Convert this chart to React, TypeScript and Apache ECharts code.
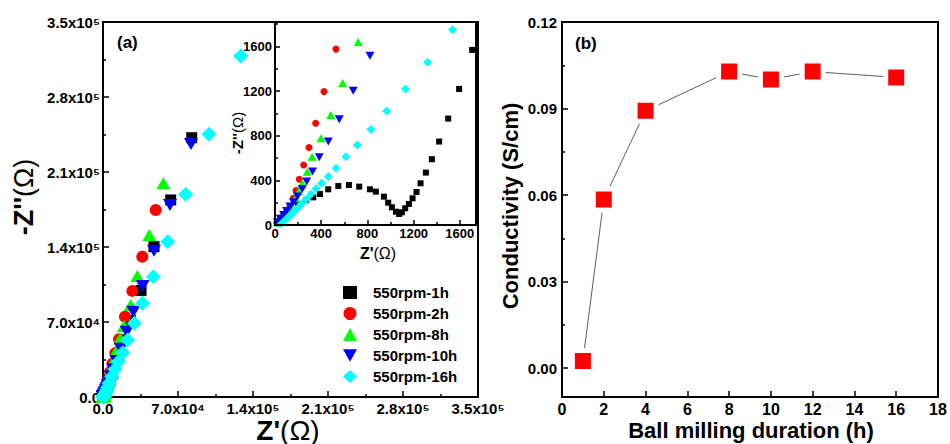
import React, { useEffect, useRef } from "react";
import * as echarts from "echarts";

const FONT = '"Liberation Sans", Arial, Helvetica, sans-serif';

// ---------- Data: Nyquist plots (Z', -Z'') ----------
const seriesNames = ["550rpm-1h", "550rpm-2h", "550rpm-8h", "550rpm-10h", "550rpm-16h"];
const seriesColors = ["#000000", "#ff0000", "#00ff00", "#0000ff", "#00ffff"];

const s1h: [number, number][] = [
  [60, 60], [130, 130], [200, 185], [270, 225], [331, 248], [389, 278], [461, 320], [548, 350],
  [640, 359], [729, 344], [822, 320], [873, 299], [943, 254], [980, 200], [1012, 159], [1047, 119],
  [1075, 99], [1098, 114], [1127, 150], [1159, 188], [1191, 239], [1225, 296], [1260, 374],
  [1306, 470], [1358, 590], [1421, 748], [1499, 954], [1594, 1220], [1707, 1570],
  [1850, 2020], [2150, 2900], [2600, 4100], [3200, 5800], [4000, 8200], [5100, 11500],
  [6600, 15800], [8600, 21500], [11200, 29500], [14700, 40000], [19300, 53500], [25500, 71500],
  [35500, 99500], [47600, 140300], [63200, 183900], [82800, 242000],
];

const s2h: [number, number][] = [
  [15, 20], [40, 45], [65, 75], [90, 105], [110, 135], [130, 170], [158, 240], [182, 308],
  [210, 410], [248, 538], [294, 694], [352, 913], [424, 1196], [528, 1577],
  [650, 2020], [820, 2600], [1050, 3400], [1350, 4450], [1750, 5850], [2300, 7750],
  [3000, 10200], [3900, 13500], [5100, 17800], [6700, 23500], [8800, 31000], [11500, 41000],
  [15000, 54000], [20500, 75000], [27400, 99000], [36700, 131000], [49200, 174500],
];

const s8h: [number, number][] = [
  [20, 22], [45, 50], [70, 80], [100, 115], [135, 165], [175, 240], [205, 300], [236, 374],
  [279, 478], [320, 613], [398, 778], [482, 987], [585, 1272], [720, 1640],
  [880, 2080], [1080, 2650], [1330, 3350], [1650, 4300], [2050, 5500], [2550, 7100],
  [3200, 9100], [4000, 11700], [5000, 15200], [6300, 19800], [8000, 25800], [10200, 33800],
  [13000, 44000], [16000, 54500], [19600, 66300], [25800, 85900], [32000, 112900],
  [43200, 151200], [56300, 199500],
];

const s10h: [number, number][] = [
  [20, 25], [45, 55], [75, 90], [100, 125], [130, 165], [160, 205], [195, 255], [235, 320],
  [274, 389], [325, 480], [383, 607], [461, 748], [556, 948], [677, 1203], [822, 1517],
  [1000, 1950], [1250, 2560], [1600, 3440], [2050, 4610], [2650, 6230], [3400, 8230],
  [4400, 11000], [5700, 14600], [7400, 19400], [9600, 25600], [12500, 33700], [16500, 45000],
  [22100, 61000], [28300, 79600], [37000, 103600], [47600, 136500], [62500, 179200], [82100, 236100],
];

const s16h: [number, number][] = [
  [55, 12], [75, 30], [100, 55], [130, 85], [160, 115], [195, 150], [230, 190], [270, 230],
  [310, 275], [355, 325], [404, 374], [461, 434], [528, 509], [614, 613], [712, 718], [830, 856],
  [966, 1023], [1130, 1220], [1320, 1460], [1537, 1750],
  [1800, 2350], [2150, 3200], [2600, 4400], [3400, 6500], [4300, 9000], [5600, 12800],
  [8100, 19000], [11200, 25900], [14300, 33000], [18400, 41400], [23000, 53200], [29200, 68800],
  [37000, 87500], [47000, 112300], [60400, 145000], [77200, 189200], [98900, 245200], [128500, 318300],
];

const nyquistData = [s1h, s2h, s8h, s10h, s16h];

// main axis tick labels
const mainTickValues = [0, 70000, 140000, 210000, 280000, 350000];
const mainTickLabels = ["0.0", "7.0x10⁴", "1.4x10⁵", "2.1x10⁵", "2.8x10⁵", "3.5x10⁵"];

// inset tick labels
const insetTicks = [0, 400, 800, 1200, 1600];

// ---------- Data: conductivity vs ball-milling duration ----------
const durations = [1, 2, 4, 8, 10, 12, 16];
const conductivity = [0.0025, 0.0585, 0.0892, 0.1028, 0.1001, 0.1028, 0.1008];
const condTicks = [0, 0.03, 0.06, 0.09, 0.12];
const condMinorTicks = [0.015, 0.045, 0.075, 0.105];

const symbols = ["rect", "circle", "triangle", "path://M0,0L10,0L5,9Z", "diamond"];
const mainSizes = [[11, 11], [12, 12], [14, 12], [14, 12], [15, 15]];
const insetSizes = [[6, 6], [7, 7], [9, 8], [9, 8], [9, 9]];

export default function App() {
  const ref = useRef<HTMLDivElement>(null);
  useEffect(() => {
    if (!ref.current) return;
    const chart = echarts.init(ref.current, undefined, { renderer: "svg" });

    const axisLine = { show: true, onZero: false, lineStyle: { color: "#000", width: 2 } };
    const tickStyle = { color: "#000", width: 1.5 };
    const labelBase = { color: "#000", fontFamily: FONT, fontWeight: "bold" as const };

    const mainFmt = (v: number) => {
      const i = mainTickValues.findIndex((t) => Math.abs(t - v) < 1);
      return i < 0 ? "" : mainTickLabels[i];
    };
    const insetFmt = (v: number) => (insetTicks.indexOf(Math.round(v)) >= 0 ? String(Math.round(v)) : "");

    const series: any[] = [];
    nyquistData.forEach((d, i) => {
      series.push({
        type: "scatter",
        name: seriesNames[i],
        xAxisIndex: 0,
        yAxisIndex: 0,
        data: d,
        symbol: symbols[i],
        symbolSize: mainSizes[i],
        itemStyle: { color: seriesColors[i], opacity: 1 },
        clip: true,
        z: 2 + i,
      });
    });
    nyquistData.forEach((d, i) => {
      series.push({
        type: "scatter",
        name: seriesNames[i],
        xAxisIndex: 1,
        yAxisIndex: 1,
        data: d,
        symbol: symbols[i],
        symbolSize: insetSizes[i],
        itemStyle: { color: seriesColors[i], opacity: 1 },
        clip: true,
        z: 20 + i,
      });
    });
    series.push({
      type: "line",
      name: "Conductivity",
      xAxisIndex: 2,
      yAxisIndex: 2,
      data: durations.map((d, i) => [d, conductivity[i]]),
      symbol: "rect",
      symbolSize: 21,
      itemStyle: { color: "#ff0000", borderColor: "#ffffff", borderWidth: 5 },
      lineStyle: { color: "#333", width: 0.8 },
      z: 5,
    });

    const option: any = {
      animation: false,
      backgroundColor: "#fff",
      legend: {
        data: seriesNames,
        orient: "vertical",
        left: 338,
        top: 280,
        itemWidth: 14,
        itemHeight: 13,
        itemGap: 6,
        selectedMode: false,
        textStyle: { ...labelBase, fontSize: 15, padding: [0, 0, 0, 11] },
      },
      grid: [
        { left: 103, top: 22, width: 375, height: 375, show: true, borderColor: "#000", borderWidth: 2 },
        { left: 275, top: 22, width: 201, height: 203, show: true, borderColor: "#000", borderWidth: 2, backgroundColor: "#fff", z: 10 },
        { left: 562, top: 22, width: 376, height: 375, show: true, borderColor: "#000", borderWidth: 2 },
      ],
      xAxis: [
        {
          type: "value", gridIndex: 0, min: 0, max: 350000, interval: 70000,
          axisLine, splitLine: { show: false },
          axisTick: { inside: true, length: 6, lineStyle: tickStyle },
          minorTick: { show: true, splitNumber: 2, length: 3, lineStyle: tickStyle },
          axisLabel: { ...labelBase, fontSize: 15, margin: 4, formatter: mainFmt },
        },
        {
          type: "value", gridIndex: 1, min: 0, max: 1740, interval: 400,
          axisLine, splitLine: { show: false }, z: 30,
          axisTick: { inside: true, length: 5, lineStyle: tickStyle },
          minorTick: { show: true, splitNumber: 2, length: 3, lineStyle: tickStyle },
          axisLabel: { ...labelBase, fontSize: 13, margin: 2, formatter: insetFmt },
        },
        {
          type: "value", gridIndex: 2, min: 0, max: 18, interval: 2,
          axisLine, splitLine: { show: false },
          axisTick: { inside: true, length: 6, lineStyle: tickStyle },
          axisLabel: { ...labelBase, fontSize: 16, margin: 4 },
        },
      ],
      yAxis: [
        {
          type: "value", gridIndex: 0, min: 0, max: 350000, interval: 70000,
          axisLine, splitLine: { show: false },
          axisTick: { inside: true, length: 6, lineStyle: tickStyle },
          minorTick: { show: true, splitNumber: 2, length: 3, lineStyle: tickStyle },
          axisLabel: { ...labelBase, fontSize: 15, margin: 3, formatter: mainFmt },
        },
        {
          type: "value", gridIndex: 1, min: 0, max: 1820, interval: 400,
          axisLine, splitLine: { show: false }, z: 30,
          axisTick: { inside: true, length: 5, lineStyle: tickStyle },
          minorTick: { show: true, splitNumber: 2, length: 3, lineStyle: tickStyle },
          axisLabel: { ...labelBase, fontSize: 13, margin: 3, formatter: insetFmt },
        },
        {
          type: "value", gridIndex: 2, min: -0.01, max: 0.12, position: "left",
          axisLine, splitLine: { show: false },
          axisTick: { inside: true, length: 6, lineStyle: tickStyle, customValues: condTicks },
          axisLabel: { ...labelBase, fontSize: 15, margin: 5, customValues: condTicks, formatter: (v: number) => v.toFixed(2) },
        },
        {
          type: "value", gridIndex: 2, min: -0.01, max: 0.12, position: "left", offset: 0,
          axisLine: { show: false }, splitLine: { show: false },
          axisTick: { inside: true, length: 3, lineStyle: tickStyle, customValues: condMinorTicks },
          axisLabel: { show: false },
        },
      ],
      series,
      graphic: [
        { type: "text", x: 117, y: 42, style: { text: "(a)", font: `bold 17px ${FONT}`, fill: "#000", align: "left", verticalAlign: "middle" } },
        { type: "text", x: 575, y: 43, style: { text: "(b)", font: `bold 17px ${FONT}`, fill: "#000", align: "left", verticalAlign: "middle" } },
        {
          type: "text", x: 24, y: 197, rotation: Math.PI / 2,
          style: {
            text: "{b|-Z''}{n|(Ω)}", align: "center", verticalAlign: "middle",
            rich: {
              b: { fontFamily: FONT, fontWeight: "bold", fontSize: 27, fill: "#000" },
              n: { fontFamily: FONT, fontWeight: "normal", fontSize: 27, fill: "#000" },
            },
          },
        },
        {
          type: "text", x: 288, y: 430,
          style: {
            text: "{b|Z'}{n|(Ω)}", align: "center", verticalAlign: "middle",
            rich: {
              b: { fontFamily: FONT, fontWeight: "bold", fontSize: 28, fill: "#000" },
              n: { fontFamily: FONT, fontWeight: "normal", fontSize: 28, fill: "#000" },
            },
          },
        },
        {
          type: "text", x: 237, y: 133, rotation: Math.PI / 2, z: 50,
          style: {
            text: "{b|-Z''}{n|(Ω)}", align: "center", verticalAlign: "middle",
            rich: {
              b: { fontFamily: FONT, fontWeight: "bold", fontSize: 15, fill: "#000" },
              n: { fontFamily: FONT, fontWeight: "normal", fontSize: 15, fill: "#000" },
            },
          },
        },
        {
          type: "text", x: 378, y: 253, z: 50,
          style: {
            text: "{b|Z'}{n|(Ω)}", align: "center", verticalAlign: "middle",
            rich: {
              b: { fontFamily: FONT, fontWeight: "bold", fontSize: 16, fill: "#000" },
              n: { fontFamily: FONT, fontWeight: "normal", fontSize: 16, fill: "#000" },
            },
          },
        },
        {
          type: "text", x: 510, y: 206, rotation: Math.PI / 2,
          style: { text: "Conductivity (S/cm)", font: `bold 22px ${FONT}`, fill: "#000", align: "center", verticalAlign: "middle" },
        },
        {
          type: "text", x: 751, y: 430,
          style: { text: "Ball milling duration (h)", font: `bold 22px ${FONT}`, fill: "#000", align: "center", verticalAlign: "middle" },
        },
      ],
    };
    chart.setOption(option);
    return () => chart.dispose();
  }, []);
  return (
    <div
      ref={ref}
      style={{ position: "fixed", left: 0, top: 0, width: 950, height: 444, background: "#fff" }}
    />
  );
}
